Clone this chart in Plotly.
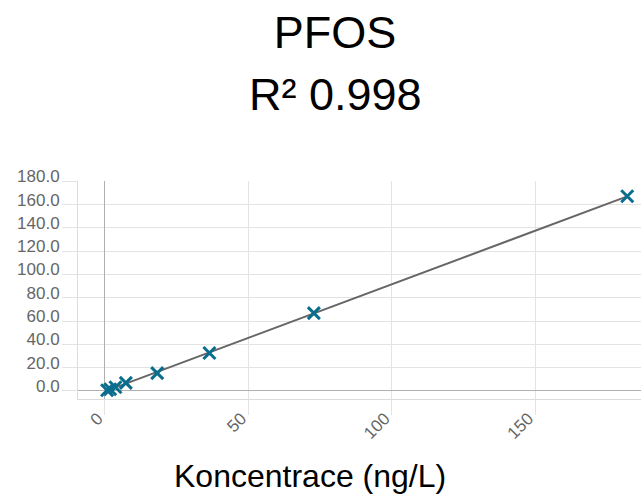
import numpy as np
import plotly.graph_objects as go

# Calibration data
concentration = [0.73, 1.82, 3.64, 7.28, 18.2, 36.4, 72.8, 182.0]   # ng/L
response = [0.6, 1.5, 3.2, 6.9, 15.3, 32.6, 66.8, 167.2]

x_ticks = [0, 50, 100, 150]
y_ticks = [0, 20, 40, 60, 80, 100, 120, 140, 160, 180]

title_name = "PFOS"
r2_text = "0.998"
x_title = "Koncentrace (ng/L)"

# least-squares calibration line through the points
slope, intercept = np.polyfit(concentration, response, 1)
fit_x = [min(concentration), max(concentration)]
fit_y = [slope * v + intercept for v in fit_x]

FONT = "Liberation Sans, Arial, sans-serif"
GRID = "#e3e3e3"
ZERO = "#b0b0b0"
TICKFONT = dict(family=FONT, size=17, color="#666666")

fig = go.Figure()
fig.add_trace(go.Scatter(
    x=fit_x, y=fit_y, mode="lines",
    line=dict(color="#666666", width=2),
    hoverinfo="skip", showlegend=False,
))
fig.add_trace(go.Scatter(
    x=concentration, y=response, mode="markers",
    marker=dict(symbol="x-thin", size=12, line=dict(color="#0b6d8e", width=3), color="#0b6d8e"),
    showlegend=False,
))

fig.update_layout(
    width=641, height=499,
    margin=dict(l=78, r=0, t=181, b=100, pad=0),
    paper_bgcolor="white", plot_bgcolor="white",
    title=dict(
        text=title_name,
        font=dict(family=FONT, size=45, color="#000000"),
        xref="container", x=335 / 641, xanchor="center",
        yref="container", y=1 - 32.5 / 499, yanchor="middle",
    ),
    annotations=[
        dict(
            text=f"R\u00b2 {r2_text}", xref="paper", yref="paper",
            x=(335 - 78) / 563, y=1 + (181 - 94) / 218, xanchor="center", yanchor="middle",
            showarrow=False, font=dict(family=FONT, size=45, color="#000000"),
        ),
        dict(
            text=x_title, xref="paper", yref="paper",
            x=(310 - 78) / 563, y=-(476 - 399) / 218, xanchor="center", yanchor="middle",
            showarrow=False, font=dict(family=FONT, size=32, color="#000000"),
        ),
    ],
)

fig.update_xaxes(
    range=[-9.4, 186.8], tickvals=x_ticks, ticktext=[str(v) for v in x_ticks],
    showgrid=True, gridcolor=GRID, gridwidth=1,
    zeroline=True, zerolinecolor=ZERO, zerolinewidth=1,
    showline=True, linecolor="#dcdcdc", linewidth=1, mirror=False,
    ticks="outside", ticklen=15, tickcolor=GRID, tickwidth=1,
    tickangle=-45, tickfont=TICKFONT, ticklabelstandoff=-13, ticklabelshift=-7,
)
fig.update_yaxes(
    range=[-6.9, 180.3], tickvals=y_ticks, ticktext=[f"{v:.1f}" for v in y_ticks],
    showgrid=True, gridcolor=GRID, gridwidth=1,
    zeroline=True, zerolinecolor=ZERO, zerolinewidth=1,
    showline=True, linecolor="#dcdcdc", linewidth=1, mirror=False,
    ticks="outside", ticklen=15, tickcolor=GRID, tickwidth=1,
    tickfont=TICKFONT, ticklabelshift=-5, ticklabelstandoff=-1,
)

fig.write_html("out.html")
